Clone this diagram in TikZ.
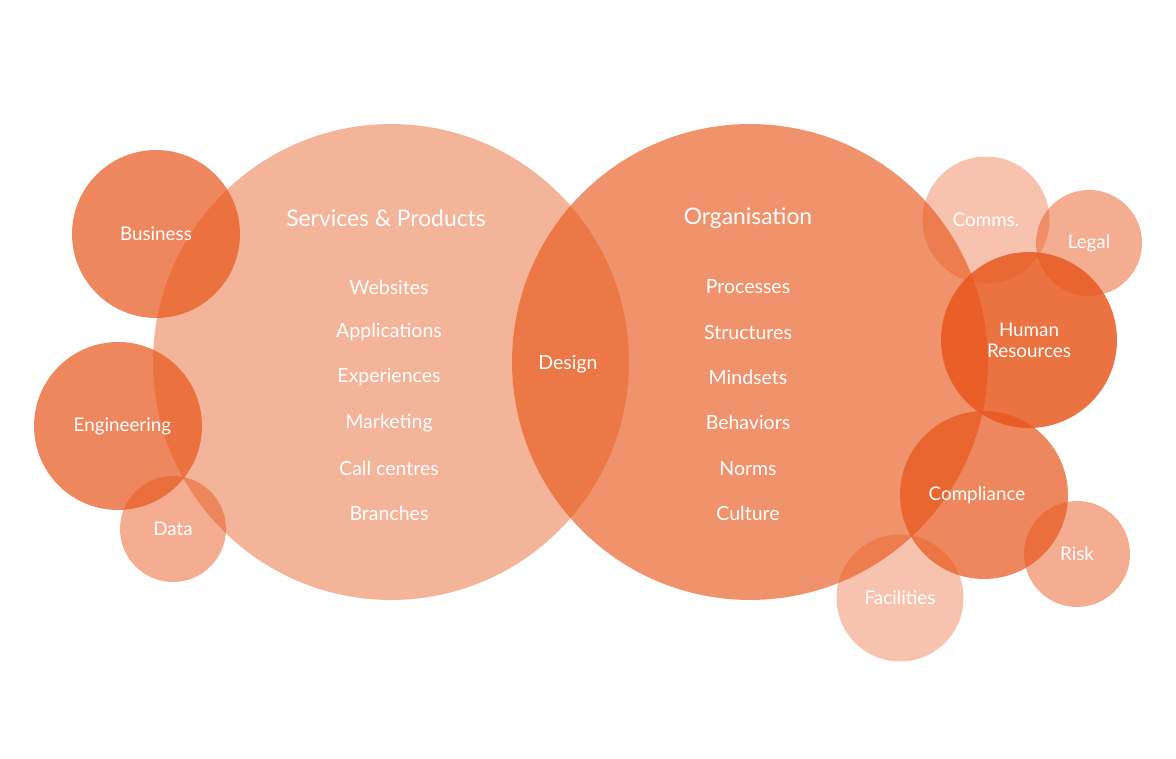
\documentclass[tikz,border=0pt]{standalone}
\usepackage{fontspec}
\setmainfont{Lato}
\usepackage{tikz}
\usetikzlibrary{positioning}

\definecolor{brand}{RGB}{231,84,24}

\begin{document}
\begin{tikzpicture}[
    x=0.02cm, y=-0.02cm,
    bubble/.style={circle, fill=brand, draw=none, inner sep=0pt, align=center,
        text=white, text opacity=1, font=\fontsize{10.7}{12.8}\selectfont},
    bigbubble/.style={bubble, minimum size=9.52cm},
    midbubble/.style={bubble, minimum size=3.36cm},
    hrbubble/.style={bubble, minimum size=3.52cm},
    commsbubble/.style={bubble, minimum size=2.54cm},
    smallbubble/.style={bubble, minimum size=2.12cm},
    title/.style={text=white, yshift=-1.4pt, font=\fontsize{13}{15}\selectfont},
    entry/.style={text=white, yshift=-1.1pt, font=\fontsize{11.1}{13}\selectfont}
]
    \useasboundingbox (0,0) rectangle (1176,759);

    % the two main circles
    \node [bigbubble, fill opacity=0.44] (services) at (391,362) {};
    \node [bigbubble, fill opacity=0.64] (organisation) at (750,362) {};

    % left side
    \node [midbubble, fill opacity=0.7] (business) at (156,234) {Business};
    \node [midbubble, fill opacity=0.7] (engineering) at (118,426) {\hspace*{5pt}Engineering};
    \node [smallbubble, fill opacity=0.48] (data) at (173,529) {Data};

    % right side
    \node [commsbubble, fill opacity=0.35] (comms) at (986,220) {Comms.};
    \node [smallbubble, fill opacity=0.48] (legal) at (1089,243) {Legal};
    \node [hrbubble, fill opacity=0.82] (hr) at (1029,340) {Human\\[-1pt]Resources};
    \node [midbubble, fill opacity=0.7] (compliance) at (984,495) {Compliance\hspace*{8pt}};
    \node [smallbubble, fill opacity=0.48] (risk) at (1077,554) {Risk};
    \node [commsbubble, fill opacity=0.35] (facilities) at (900,598) {Facilities};

    % titles
    \node [title] (services_title) at (386,216) {Services \& Products};
    \node [title] (organisation_title) at (748,216) {Organisation};
    \node [entry] (design) at (568,362) {Design};

    % lists
    \foreach \entrytext [count=\i] in {Websites,Applications,Experiences,Marketing,Call centres,Branches}
        \node [entry] (svc_\i) at (389,{285+45.3*(\i-1)}) {\entrytext};
    \foreach \entrytext [count=\i] in {Processes,Structures,Mindsets,Behaviors,Norms,Culture}
        \node [entry] (org_\i) at (748,{285+45.3*(\i-1)}) {\entrytext};

\end{tikzpicture}
\end{document}
